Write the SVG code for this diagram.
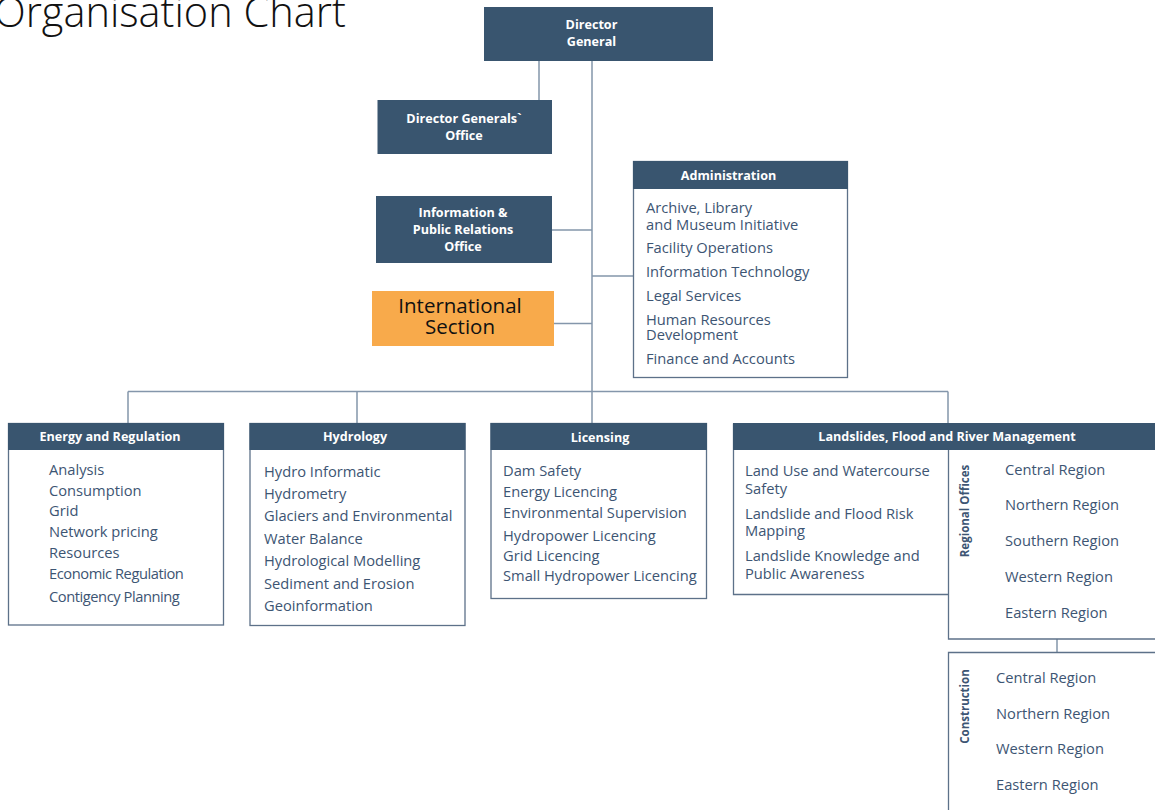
<svg xmlns="http://www.w3.org/2000/svg" width="1155" height="810" viewBox="0 0 1155 810">
<style>
.hdr{fill:#39556f}
.box{fill:#fff;stroke:#5d7189;stroke-width:1.3}
.ht{font-family:"Open Sans","Noto Sans",sans-serif;font-weight:700;font-size:12.6px;fill:#fff;text-anchor:middle}
.it{font-family:"Open Sans","Noto Sans",sans-serif;font-size:14.7px;fill:#3d5573}
.rt{font-family:"Open Sans","Noto Sans",sans-serif;font-weight:700;font-size:11.5px;fill:#3d5573;text-anchor:middle}
.con{stroke:#8496ab;stroke-width:1.5;fill:none}
.sq{letter-spacing:-0.45px}
</style>
<rect width="1155" height="810" fill="#fff"/>
<text x="-6" y="27" font-family="'Open Sans','Noto Sans',sans-serif" font-weight="300" font-size="41.5" fill="#111">Organisation Chart</text>
<g id="connectors">
<path class="con" d="M539 61V100M592 61V423M552 230H592M554 323.5H592M592 276H633M128 391.5H948M128 391.5V423M357 391.5V423M948 391.5V423M1057 639V652"/>
</g>
<g id="director-general">
<rect class="hdr" x="484" y="7" width="229" height="54"/>
<text class="ht" x="591.5" y="29" font-size="13.8">Director</text>
<text class="ht" x="591.5" y="46" font-size="13.8">General</text>
</g>
<g id="dg-office">
<rect class="hdr" x="377.5" y="100" width="174.5" height="54"/>
<text class="ht" x="464" y="123">Director Generals`</text>
<text class="ht" x="464" y="140">Office</text>
</g>
<g id="info-pr">
<rect class="hdr" x="376" y="196" width="176" height="67"/>
<text class="ht" x="463" y="216.5">Information &amp;</text>
<text class="ht" x="463" y="233.5">Public Relations</text>
<text class="ht" x="463" y="250.5">Office</text>
</g>
<g id="international">
<rect x="372" y="291" width="182" height="55" fill="#f8aa4b"/>
<text x="460" y="313" font-family="'Open Sans','Noto Sans',sans-serif" font-size="20.5" fill="#111" text-anchor="middle">International</text>
<text x="460" y="334" font-family="'Open Sans','Noto Sans',sans-serif" font-size="20.5" fill="#111" text-anchor="middle">Section</text>
</g>
<g id="administration">
<rect class="box" x="633.5" y="161.5" width="214" height="216"/>
<rect class="hdr" x="633" y="161" width="215" height="28"/>
<text class="ht" x="728.5" y="180">Administration</text>
<text class="it" x="646" y="212.5">Archive, Library</text>
<text class="it" x="646" y="230">and Museum Initiative</text>
<text class="it" x="646" y="253">Facility Operations</text>
<text class="it" x="646" y="277">Information Technology</text>
<text class="it" x="646" y="301">Legal Services</text>
<text class="it" x="646" y="325">Human Resources</text>
<text class="it" x="646" y="339.5">Development</text>
<text class="it" x="646" y="363.5">Finance and Accounts</text>
</g>
<g id="energy">
<rect class="box" x="8.5" y="423.5" width="215" height="201.5"/>
<rect class="hdr" x="8" y="423" width="216" height="27"/>
<text class="ht" x="110" y="441">Energy and Regulation</text>
<text class="it" x="49" y="475">Analysis</text>
<text class="it" x="49" y="496">Consumption</text>
<text class="it" x="49" y="515.5">Grid</text>
<text class="it" x="49" y="537">Network pricing</text>
<text class="it" x="49" y="558">Resources</text>
<text class="it sq" x="49" y="579">Economic Regulation</text>
<text class="it sq" x="49" y="602">Contigency Planning</text>
</g>
<g id="hydrology">
<rect class="box" x="250" y="423.5" width="215" height="202"/>
<rect class="hdr" x="249.5" y="423" width="216" height="27"/>
<text class="ht" x="355" y="441">Hydrology</text>
<text class="it" x="264" y="477">Hydro Informatic</text>
<text class="it" x="264" y="499">Hydrometry</text>
<text class="it" x="264" y="521">Glaciers and Environmental</text>
<text class="it" x="264" y="544">Water Balance</text>
<text class="it" x="264" y="566">Hydrological Modelling</text>
<text class="it" x="264" y="588.5">Sediment and Erosion</text>
<text class="it" x="264" y="611">Geoinformation</text>
</g>
<g id="licensing">
<rect class="box" x="491" y="423.5" width="215.5" height="175"/>
<rect class="hdr" x="490.5" y="423" width="216.5" height="27"/>
<text class="ht" x="600" y="442">Licensing</text>
<text class="it" x="503" y="476">Dam Safety</text>
<text class="it" x="503" y="497">Energy Licencing</text>
<text class="it" x="503" y="517.5">Environmental Supervision</text>
<text class="it" x="503" y="541">Hydropower Licencing</text>
<text class="it" x="503" y="561">Grid Licencing</text>
<text class="it" x="503" y="581">Small Hydropower Licencing</text>
</g>
<g id="landslides">
<path class="box" d="M733.5 423.5V594.5H948.5M948.5 423.5V639H1160"/>
<rect class="hdr" x="733" y="423" width="430" height="27"/>
<text class="ht" x="947" y="440.5" font-size="13.2">Landslides, Flood and River Management</text>
<text class="it" x="745" y="476">Land Use and Watercourse</text>
<text class="it" x="745" y="494">Safety</text>
<text class="it" x="745" y="518.5">Landslide and Flood Risk</text>
<text class="it" x="745" y="536">Mapping</text>
<text class="it" x="745" y="561">Landslide Knowledge and</text>
<text class="it" x="745" y="578.5">Public Awareness</text>
</g>
<g id="regional-offices">
<text class="rt" transform="translate(969 511) rotate(-90)">Regional Offices</text>
<text class="it" x="1005" y="475">Central Region</text>
<text class="it" x="1005" y="510">Northern Region</text>
<text class="it" x="1005" y="546">Southern Region</text>
<text class="it" x="1005" y="582">Western Region</text>
<text class="it" x="1005" y="617.5">Eastern Region</text>
</g>
<g id="construction">
<path class="box" d="M948.5 815V652.5H1160"/>
<text class="rt" transform="translate(969 706.5) rotate(-90)">Construction</text>
<text class="it" x="996" y="683">Central Region</text>
<text class="it" x="996" y="718.5">Northern Region</text>
<text class="it" x="996" y="754">Western Region</text>
<text class="it" x="996" y="790">Eastern Region</text>
</g>
</svg>
